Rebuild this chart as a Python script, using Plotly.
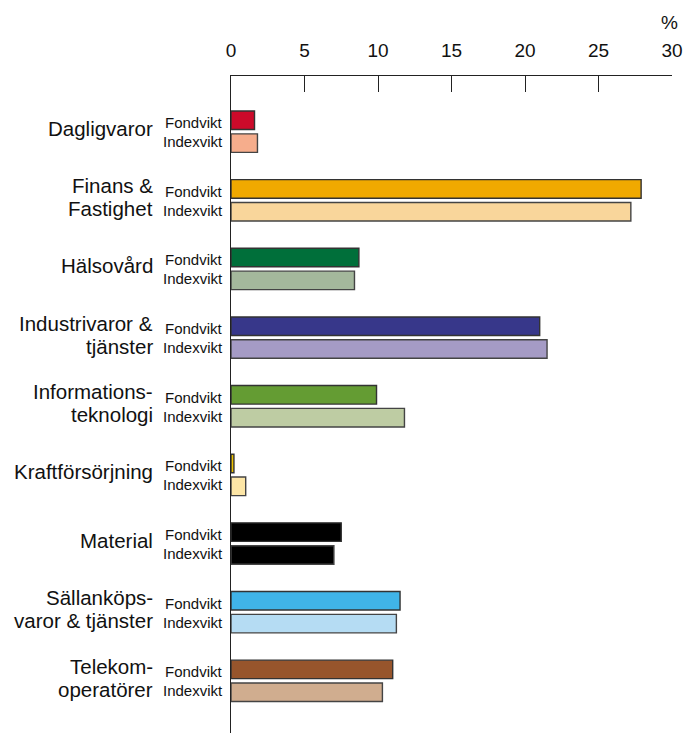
import plotly.graph_objects as go

# Sector weights (%), fund vs. index
sectors = [
    "Dagligvaror",
    "Finans &<br>Fastighet",
    "Hälsovård",
    "Industrivaror &<br>tjänster",
    "Informations-<br>teknologi",
    "Kraftförsörjning",
    "Material",
    "Sällanköps-<br>varor & tjänster",
    "Telekom-<br>operatörer",
]
fondvikt = [1.6, 27.9, 8.7, 21.0, 9.9, 0.2, 7.5, 11.5, 11.0]
indexvikt = [1.8, 27.2, 8.4, 21.5, 11.8, 1.0, 7.0, 11.25, 10.3]
series_labels = ["Fondvikt", "Indexvikt"]
x_ticks = [0, 5, 10, 15, 20, 25, 30]

fond_colors = ["#CC0A2A", "#F0A900", "#006F3A", "#37378A", "#649C33",
               "#EDC200", "#000000", "#40B4E8", "#97552C"]
index_colors = ["#F6AD8C", "#F9D69B", "#A4B89C", "#A59BC5", "#BECCA3",
                "#FDE6A6", "#000000", "#B5DCF3", "#D0AD8F"]

W, H = 685, 733
M_L, M_R, M_T, M_B = 231, 13, 76, 0
PX_PER_CAT = 68.64          # vertical pitch between sector groups
FIRST_CENTER = 131.7        # pixel row of the first group's centre
plot_h = H - M_T - M_B
y_top = (M_T - FIRST_CENTER) / PX_PER_CAT
y_bot = y_top + plot_h / PX_PER_CAT

half = 0.1665               # offset of each bar from the group centre
bar_w = 0.27
pos = list(range(len(sectors)))
font = "Liberation Sans, Arial, sans-serif"
LINE_GAP = 23               # spacing of the two lines in a sector name

fig = go.Figure()
fig.add_trace(go.Bar(
    x=fondvikt, y=[p - half for p in pos], orientation="h", width=bar_w,
    marker=dict(color=fond_colors, line=dict(color="#333333", width=1.4)),
    name=series_labels[0], showlegend=False,
))
fig.add_trace(go.Bar(
    x=indexvikt, y=[p + half for p in pos], orientation="h", width=bar_w,
    marker=dict(color=index_colors, line=dict(color="#444444", width=1.4)),
    name=series_labels[1], showlegend=False,
))

annotations = []
for p, name in zip(pos, sectors):
    lines = name.split("<br>")
    n = len(lines)
    for i, line in enumerate(lines):
        dy = -3 + (i - (n - 1) / 2) * LINE_GAP
        annotations.append(dict(
            x=0, xref="paper", xshift=-77, xanchor="right",
            y=p, yref="y", yshift=-dy, yanchor="middle",
            text=line, showarrow=False, borderpad=0,
            font=dict(family=font, size=20.5, color="#111111"),
        ))
    for lab, dy in zip(series_labels, (-9, 10)):
        annotations.append(dict(
            x=0, xref="paper", xshift=-7, xanchor="right",
            y=p, yref="y", yshift=-dy, yanchor="middle",
            text=lab, showarrow=False, borderpad=0,
            font=dict(family=font, size=15, color="#111111"),
        ))

annotations.append(dict(
    x=30, xref="x", xshift=-3, xanchor="center",
    y=1 + (M_T - 23) / plot_h, yref="paper", yanchor="middle",
    text="%", showarrow=False,
    font=dict(family=font, size=19, color="#111111"),
))

fig.update_layout(
    width=W, height=H,
    margin=dict(l=M_L, r=M_R, t=M_T, b=M_B),
    paper_bgcolor="white", plot_bgcolor="white",
    barmode="overlay",
    annotations=annotations,
    xaxis=dict(
        side="top", range=[0, 30], tickvals=x_ticks,
        ticktext=[str(v) for v in x_ticks],
        ticks="inside", ticklen=16, tickwidth=1.3, tickcolor="#222222",
        showline=True, linecolor="#222222", linewidth=1.4,
        showgrid=False, zeroline=False, ticklabelstandoff=10,
        tickfont=dict(family=font, size=19, color="#111111"),
    ),
    yaxis=dict(
        range=[y_bot, y_top], showticklabels=False, ticks="",
        showline=True, linecolor="#222222", linewidth=1.4,
        showgrid=False, zeroline=False,
    ),
)

fig.write_html("out.html")
